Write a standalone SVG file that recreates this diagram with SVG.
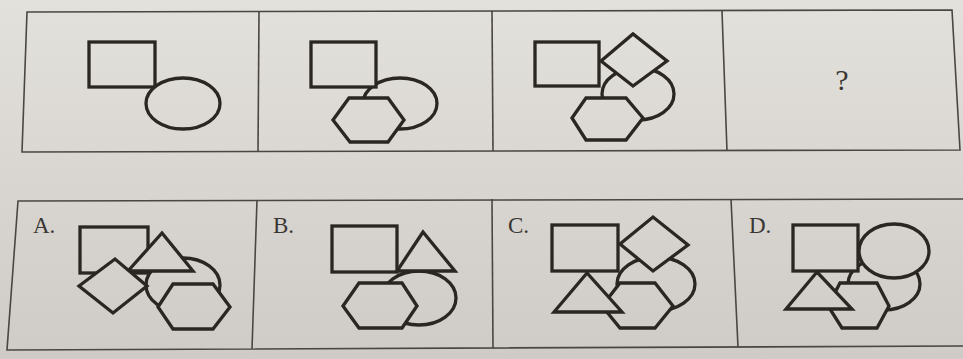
<svg xmlns="http://www.w3.org/2000/svg" width="963" height="359" viewBox="0 0 963 359">
  <defs>
    <linearGradient id="paper" gradientUnits="userSpaceOnUse" x1="0" y1="0" x2="0" y2="359">
      <stop offset="0" stop-color="#e3e1dc"/>
      <stop offset="0.5" stop-color="#d9d6d1"/>
      <stop offset="1" stop-color="#cfccc7"/>
    </linearGradient>
  </defs>
  <style>
    .frame { fill: none; stroke: #4a4642; stroke-width: 1.6; }
    .s { fill: url(#paper); stroke: #2a2622; stroke-width: 3.3; stroke-linejoin: miter; }
    .lbl { font-family: "Liberation Serif", "Times New Roman", serif; fill: #3a3632; }
  </style>
  <rect x="0" y="0" width="963" height="359" fill="url(#paper)"/>

  <g id="frames">
    <polygon class="frame" points="27,12 952,10 960,150 22,152"/>
    <line class="frame" x1="259" y1="12" x2="258" y2="152"/>
    <line class="frame" x1="492" y1="11" x2="493" y2="151"/>
    <line class="frame" x1="722" y1="11" x2="727" y2="151"/>
    <polyline class="frame" points="970,199 18,201 7,350 970,346"/>
    <line class="frame" x1="257" y1="200" x2="252" y2="349"/>
    <line class="frame" x1="492" y1="199" x2="493" y2="348"/>
    <line class="frame" x1="731" y1="199" x2="738" y2="347"/>
  </g>

  <g id="panel1">
    <rect class="s" x="89" y="42" width="66" height="45"/>
    <ellipse class="s" cx="183" cy="103.5" rx="37" ry="25.5"/>
  </g>

  <g id="panel2">
    <ellipse class="s" cx="400" cy="103.5" rx="37" ry="25.5"/>
    <rect class="s" x="311" y="42" width="65" height="45"/>
    <polygon class="s" points="333,120 349,98 388,98 404,120 388,142 350,142"/>
  </g>

  <g id="panel3">
    <ellipse class="s" cx="638" cy="94" rx="36" ry="26"/>
    <rect class="s" x="535" y="42" width="64" height="44"/>
    <polygon class="s" points="601,61 633,34 667,61 633,86"/>
    <polygon class="s" points="572,118 586,98 626,98 643,118 626,140 586,140"/>
  </g>

  <g id="panel4">
    <text class="lbl" x="842" y="90" font-size="30" text-anchor="middle">?</text>
  </g>

  <g id="optionA">
    <text class="lbl" x="33" y="233" font-size="23">A.</text>
    <ellipse class="s" cx="183" cy="285" rx="37" ry="27"/>
    <rect class="s" x="80" y="227" width="68" height="46"/>
    <polygon class="s" points="162,233 128,271 193,271"/>
    <polygon class="s" points="79,286 115,259 147,286 113,313"/>
    <polygon class="s" points="158,307 173,284 213,284 230,307 213,329 173,329"/>
  </g>

  <g id="optionB">
    <text class="lbl" x="273" y="233" font-size="23">B.</text>
    <ellipse class="s" cx="419" cy="298" rx="37" ry="27"/>
    <rect class="s" x="332" y="226" width="65" height="46"/>
    <polygon class="s" points="423,232 397,271 455,271"/>
    <polygon class="s" points="343,306 359,283 402,283 417,306 402,328 359,328"/>
  </g>

  <g id="optionC">
    <text class="lbl" x="508" y="233" font-size="23">C.</text>
    <ellipse class="s" cx="656" cy="284" rx="39" ry="27"/>
    <rect class="s" x="552" y="225" width="66" height="46"/>
    <polygon class="s" points="620,244 653,217 688,245 653,271"/>
    <polygon class="s" points="602,306 620,283 655,283 673,306 655,328 620,328"/>
    <polygon class="s" points="587,273 554,312 622,312"/>
  </g>

  <g id="optionD">
    <text class="lbl" x="749" y="233" font-size="23">D.</text>
    <ellipse class="s" cx="884" cy="284" rx="36" ry="26"/>
    <rect class="s" x="793" y="225" width="65" height="46"/>
    <ellipse class="s" cx="894" cy="251" rx="35" ry="27"/>
    <polygon class="s" points="828,306 840,283 877,283 889,306 877,328 842,328"/>
    <polygon class="s" points="817,272 786,309 852,309"/>
  </g>
</svg>
